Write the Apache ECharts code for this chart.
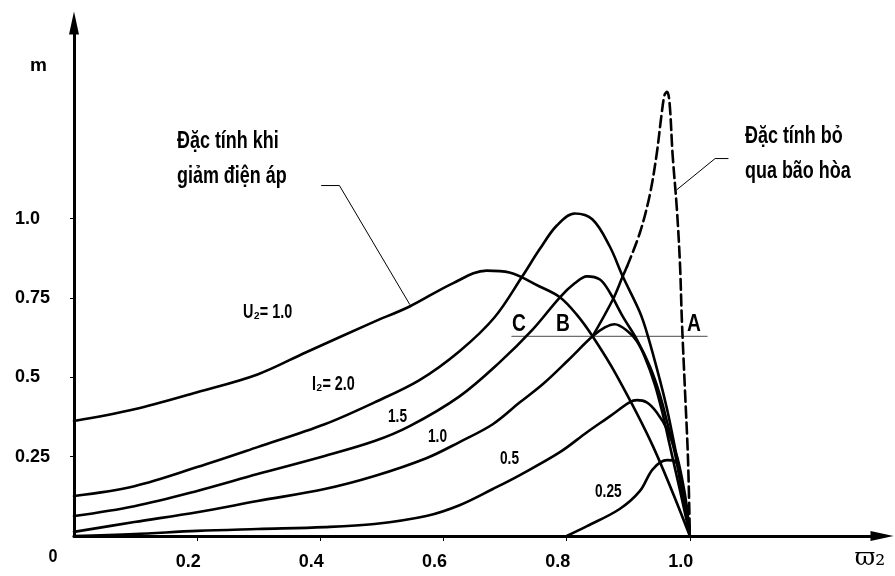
<!DOCTYPE html>
<html><head><meta charset="utf-8">
<script src="https://cdn.jsdelivr.net/npm/echarts@6/dist/echarts.min.js"></script>
<style>html,body{margin:0;padding:0;background:#fff}#c{width:895px;height:576px}</style>
</head><body><div id="c"></div>
<script>
const FONT = '"Liberation Sans",Arial,Helvetica,sans-serif';

// ---- data (omega_2 , m) ----
const xTickValues = [0.2, 0.4, 0.6, 0.8, 1.0];
const xTickLabels = ['0.2', '0.4', '0.6', '0.8', '1.0'];
const yTickValues = [0.25, 0.5, 0.75, 1.0];
const yTickLabels = ['0.25', '0.5', '0.75', '1.0'];

const wU2 = [0,0.098,0.2,0.298,0.377,0.485,0.545,0.615,0.670,0.707,0.756,0.789,0.816,0.842,0.881,0.940,1.0];
const mU2 = [0.362,0.399,0.453,0.509,0.579,0.673,0.723,0.796,0.836,0.830,0.786,0.752,0.698,0.629,0.506,0.283,0];

const wI20 = [0,0.098,0.2,0.298,0.407,0.488,0.561,0.626,0.683,0.728,0.756,0.784,0.813,0.842,0.870,0.891,0.919,0.932,0.951,0.963,0.974,0.984,0.993,1.0];
const mI20 = [0.126,0.157,0.217,0.280,0.352,0.421,0.491,0.582,0.689,0.818,0.903,0.978,1.016,0.997,0.912,0.818,0.704,0.629,0.494,0.399,0.296,0.195,0.085,0];

const wI15 = [0,0.098,0.2,0.298,0.407,0.488,0.545,0.626,0.691,0.745,0.789,0.813,0.833,0.854,0.870,0.891,0.914,0.935,0.951,0.964,0.976,0.985,0.995,1.0];
const mI15 = [0.063,0.094,0.142,0.195,0.252,0.299,0.346,0.440,0.547,0.651,0.752,0.796,0.818,0.808,0.767,0.692,0.619,0.535,0.447,0.352,0.258,0.164,0.069,0];

const wI10 = [0,0.098,0.2,0.298,0.407,0.488,0.572,0.626,0.680,0.724,0.761,0.802,0.842,0.862,0.878,0.899,0.914,0.927,0.943,0.956,0.967,0.979,0.990,1.0];
const mI10 = [0.013,0.044,0.075,0.110,0.148,0.189,0.245,0.296,0.352,0.421,0.478,0.553,0.629,0.657,0.667,0.645,0.613,0.563,0.478,0.384,0.289,0.186,0.091,0];

const wI05 = [0,0.098,0.2,0.298,0.407,0.488,0.572,0.626,0.680,0.724,0.789,0.833,0.870,0.902,0.914,0.930,0.946,0.963,0.979,0.989,0.995,1.0];
const mI05 = [0,0.006,0.016,0.022,0.028,0.038,0.063,0.097,0.148,0.192,0.264,0.327,0.377,0.421,0.428,0.421,0.390,0.336,0.252,0.164,0.094,0];

const wI025 = [0.800,0.833,0.886,0.919,0.940,0.963,0.976,0.989,0.997,1.0];
const mI025 = [0,0.031,0.085,0.142,0.211,0.239,0.236,0.148,0.053,0];

// characteristic ignoring saturation: solid start, dashed rest
const wSatSolid = [0.842,0.875,0.891,0.898];
const mSatSolid = [0.629,0.745,0.818,0.849];
const wSatDash = [0.898,0.919,0.935,0.946,0.954,0.959,0.963,0.967,0.972,0.979,0.984,0.987,0.992,0.997,1.0];
const mSatDash = [0.849,0.956,1.075,1.201,1.327,1.390,1.399,1.365,1.201,1.028,0.855,0.682,0.462,0.242,0];

// horizontal line through C, B, A
const wABC = [0.711, 1.028];
const mABC = [0.629, 0.629];

// leader lines for annotations
const wLeadL = [0.402, 0.431, 0.545];
const mLeadL = [1.104, 1.104, 0.730];
const wLeadR = [0.979, 1.041, 1.062];
const mLeadR = [1.091, 1.189, 1.189];

// ---- chart ----
const chart = echarts.init(document.getElementById('c'), null, {renderer: 'canvas'});
const pts = (xs, ys) => xs.map((x, i) => [x, ys[i]]);
function curve(name, xs, ys, opts) {
  opts = opts || {};
  return {
    type: 'line', name, data: pts(xs, ys), smooth: opts.smooth == null ? 0.35 : opts.smooth,
    symbol: 'none', silent: true, animation: false, z: opts.z || 3,
    lineStyle: {color: opts.color || '#000', width: opts.width || 2.6, type: opts.type || 'solid', cap: 'round', join: 'round'}
  };
}
function txt(text, x, y, size, sx, align) {
  return {type: 'text', x, y, scaleX: sx || 0.8, silent: true,
    style: {text, fontFamily: FONT, fontWeight: 'bold', fontSize: size, fill: '#000', align: align || 'left', verticalAlign: 'middle'}};
}

const option = {
  backgroundColor: '#fff',
  animation: false,
  grid: {left: 74, right: 13, top: 23, bottom: 40},
  xAxis: {
    type: 'value', min: 0, max: 1.312,
    splitLine: {show: false},
    axisLine: {show: true, onZero: false, symbol: ['none', 'triangle'], symbolSize: [10, 23], lineStyle: {color: '#000', width: 3}},
    axisTick: {show: true, customValues: xTickValues, length: 5, lineStyle: {color: '#000', width: 1}},
    axisLabel: {show: true, customValues: xTickValues, margin: 17, padding: [0, 18, 0, 0],
      formatter: v => xTickLabels[xTickValues.findIndex(t => Math.abs(t - v) < 1e-6)],
      fontFamily: FONT, fontWeight: 'bold', fontSize: 18, color: '#000'},
    name: 'ϖ₂', nameLocation: 'end', nameGap: -12,
    nameTextStyle: {fontFamily: '"DejaVu Serif","DejaVu Sans",serif', fontSize: 25, color: '#000', align: 'center', verticalAlign: 'top', padding: [10, 0, 0, 0]}
  },
  yAxis: {
    type: 'value', min: 0, max: 1.616,
    splitLine: {show: false},
    axisLine: {show: true, onZero: false, symbol: ['none', 'triangle'], symbolSize: [10, 23], lineStyle: {color: '#000', width: 3}},
    axisTick: {show: true, customValues: yTickValues, length: 4, lineStyle: {color: '#000', width: 1}},
    axisLabel: {show: true, customValues: yTickValues, margin: 59, align: 'left',
      formatter: v => yTickLabels[yTickValues.findIndex(t => Math.abs(t - v) < 1e-6)],
      fontFamily: FONT, fontWeight: 'bold', fontSize: 18, color: '#000'},
    name: 'm', nameLocation: 'end', nameGap: -43,
    nameTextStyle: {fontFamily: FONT, fontWeight: 'bold', fontSize: 19, color: '#000', align: 'right', verticalAlign: 'middle', padding: [0, 27, 0, 0]}
  },
  series: [
    curve('U2=1.0', wU2, mU2),
    curve('I2=2.0', wI20, mI20),
    curve('I2=1.5', wI15, mI15),
    curve('I2=1.0', wI10, mI10),
    curve('I2=0.5', wI05, mI05),
    curve('I2=0.25', wI025, mI025),
    curve('sat-solid', wSatSolid, mSatSolid),
    curve('sat-dash', wSatDash, mSatDash, {type: [11, 5]}),
    curve('ABC', wABC, mABC, {color: '#6e6e6e', width: 1.3, smooth: false, z: 2}),
    curve('leadL', wLeadL, mLeadL, {width: 1, smooth: false}),
    curve('leadR', wLeadR, mLeadR, {width: 1, smooth: false})
  ],
  graphic: [
    txt('Đặc tính khi', 177, 142, 23, 0.78),
    txt('giảm điện áp', 177, 177, 23, 0.78),
    txt('Đặc tính bỏ', 745, 137, 23, 0.78),
    txt('qua bão hòa', 745, 172, 23, 0.78),
    txt('U₂= 1.0', 243, 312, 20, 0.72),
    txt('I₂= 2.0', 312, 384, 20, 0.72),
    txt('1.5', 388, 417, 19, 0.72),
    txt('1.0', 428, 437, 19, 0.72),
    txt('0.5', 500, 459, 19, 0.72),
    txt('0.25', 595, 492, 19, 0.72),
    txt('C', 512, 324, 24, 0.8),
    txt('B', 556, 324, 24, 0.8),
    txt('A', 687, 324, 24, 0.8),
    txt('0', 53, 557, 19, 0.85, 'center')
  ]
};
chart.setOption(option);
</script>
</body></html>
